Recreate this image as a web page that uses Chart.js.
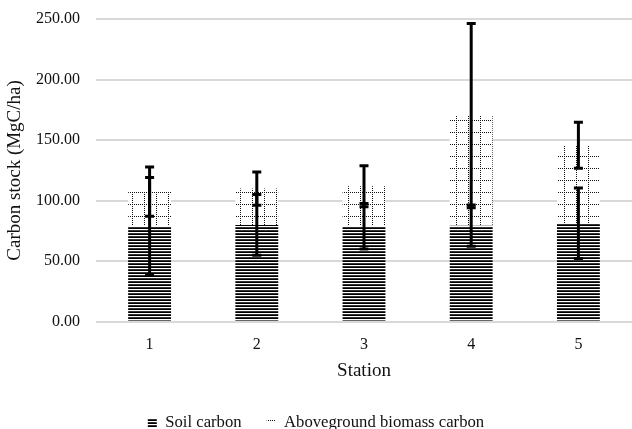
<!DOCTYPE html>
<html><head><meta charset="utf-8">
<script src="https://cdn.jsdelivr.net/npm/chart.js@4"></script>
<style>html,body{margin:0;padding:0;background:#fff}</style>
</head><body>
<canvas id="c" width="632" height="429"></canvas>
<script>
const stations = ['1', '2', '3', '4', '5'];
const soilCarbon = [78.9, 80.0, 78.9, 79.4, 81.4];
const soilError = [40.2, 25.0, 18.7, 17.0, 29.1];
const agbCarbon = [28.6, 30.0, 33.0, 90.8, 64.4];
const agbError = [20.3, 13.7, 16.9, 76.0, 19.0];
const yTicks = [0, 50, 100, 150, 200, 250];

const canvas = document.getElementById('c');
const mainCtx = canvas.getContext('2d');

function stripePattern() {
  const c = document.createElement('canvas'); c.width = 4; c.height = 3;
  const g = c.getContext('2d');
  g.fillStyle = '#fff'; g.fillRect(0, 0, 4, 3);
  g.fillStyle = '#000'; g.fillRect(0, 0, 4, 1);
  g.fillStyle = '#333'; g.fillRect(0, 2, 4, 1);
  return mainCtx.createPattern(c, 'repeat');
}
function dotGridPattern() {
  const c = document.createElement('canvas'); c.width = 12; c.height = 12;
  const g = c.getContext('2d');
  g.fillStyle = '#fff'; g.fillRect(0, 0, 12, 12);
  g.fillStyle = '#111';
  for (let i = 0; i < 12; i += 2) { g.fillRect(i, 0, 1, 1); g.fillRect(0, i, 1, 1); }
  return mainCtx.createPattern(c, 'repeat');
}

const serif = "'Liberation Serif', 'Times New Roman', serif";
Chart.defaults.font.family = serif;

const errorBars = {
  id: 'errorBars',
  afterDatasetsDraw(chart) {
    const ctx = chart.ctx, y = chart.scales.y;
    const meta = chart.getDatasetMeta(0);
    ctx.save();
    ctx.strokeStyle = '#000';
    ctx.lineWidth = 3;
    ctx.lineCap = 'butt';
    const draw = (cx, v, e) => {
      const top = y.getPixelForValue(v + e), bot = y.getPixelForValue(v - e);
      ctx.beginPath(); ctx.moveTo(cx, top); ctx.lineTo(cx, bot); ctx.stroke();
      ctx.beginPath();
      ctx.moveTo(cx - 4.5, top); ctx.lineTo(cx + 4.5, top);
      ctx.moveTo(cx - 4.5, bot); ctx.lineTo(cx + 4.5, bot);
      ctx.stroke();
    };
    stations.forEach((s, i) => {
      const cx = meta.data[i].x;
      draw(cx, soilCarbon[i], soilError[i]);
      draw(cx, soilCarbon[i] + agbCarbon[i], agbError[i]);
    });
    ctx.restore();
  }
};

new Chart(canvas, {
  type: 'bar',
  data: {
    labels: stations,
    datasets: [
      { label: 'Soil carbon', data: soilCarbon, backgroundColor: stripePattern(), borderWidth: 0, borderColor: 'rgba(0,0,0,0)' },
      { label: 'Aboveground biomass carbon', data: agbCarbon, backgroundColor: dotGridPattern(), borderWidth: 0, borderColor: 'rgba(0,0,0,0)' }
    ]
  },
  options: {
    responsive: false,
    animation: false,
    devicePixelRatio: 1,
    layout: { padding: { top: 19, left: 0, right: 0, bottom: -12 } },
    datasets: { bar: { barPercentage: 0.4, categoryPercentage: 1 } },
    scales: {
      x: {
        stacked: true,
        grid: { display: false, drawTicks: false },
        border: { display: false },
        ticks: { padding: 13, color: '#111', font: { family: serif, size: 16 } },
        title: { display: true, text: 'Station', color: '#111', font: { family: serif, size: 19 }, padding: { top: 4, bottom: 7 } },
        afterFit(s) { s.height = 67.5; }
      },
      y: {
        stacked: true,
        min: 0, max: 250,
        afterBuildTicks(s) { s.ticks = yTicks.map(v => ({ value: v })); },
        ticks: { padding: 0, color: '#111', font: { family: serif, size: 16 }, callback: v => Number(v).toFixed(2) },
        grid: { color: '#d9d9d9', lineWidth: 2, drawTicks: true, tickLength: 16, tickColor: 'rgba(0,0,0,0)' },
        border: { display: false },
        title: { display: true, text: 'Carbon stock (MgC/ha)', color: '#111', font: { family: serif, size: 19 }, padding: { top: 4, bottom: 0 } },
        afterFit(s) { s.width = 96; }
      }
    },
    plugins: {
      legend: {
        position: 'bottom',
        labels: { boxWidth: 9, boxHeight: 9, padding: 25, color: '#111', font: { family: serif, size: 16.7 } }
      },
      tooltip: { enabled: false }
    }
  },
  plugins: [errorBars]
});
</script>
</body></html>
